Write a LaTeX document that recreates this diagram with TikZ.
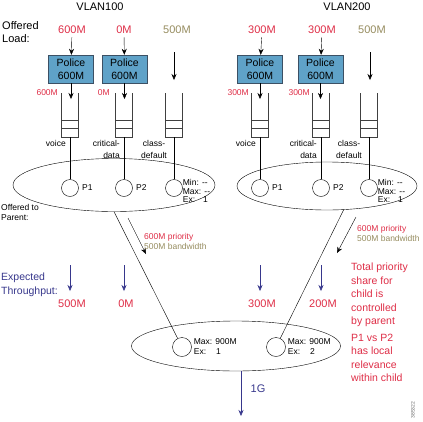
\documentclass[tikz,border=0pt]{standalone}
\usepackage{fontspec}
\setmainfont{Liberation Sans}
\usetikzlibrary{shapes.geometric,arrows.meta}
\definecolor{cred}{RGB}{222,45,70}
\definecolor{colive}{RGB}{150,140,95}
\definecolor{cnavy}{RGB}{55,55,140}
\definecolor{policeblue}{RGB}{95,162,200}
\definecolor{policeline}{RGB}{60,80,100}

\begin{document}
\begin{tikzpicture}[x=1pt,y=-1pt,
  font=\fontsize{11}{13}\selectfont,
  police/.style={draw=policeline,fill=policeblue,minimum width=45pt,minimum height=28pt,
    inner sep=0pt,align=center,font=\fontsize{10.5}{12.5}\selectfont},
  cls/.style={circle,draw,minimum size=17pt,inner sep=0pt},
  ell/.style={ellipse,draw,inner sep=0pt},
  queue/.style={draw=black!75,line width=0.4pt},
  arr/.style={-{Stealth[length=6pt,width=5pt]}},
  thr/.style={cnavy,-{Stealth[length=6pt,width=5pt]}},
  small/.style={font=\fontsize{8.5}{9.5}\selectfont},
  tiny/.style={font=\fontsize{8.5}{8.5}\selectfont,align=left,inner sep=0pt}]
\useasboundingbox (0,0) rectangle (423,421);

% headings
\node (vlan1) at (100,7) {VLAN100};
\node (vlan2) at (347,7) {VLAN200};
\node[anchor=west,align=left,inner sep=0pt] (offered) at (2,32.5) {Offered\\Load:};

% offered load per class
\node[cred] (l1) at (72,30) {600M};
\node[cred] (l2) at (124,30) {0M};
\node[colive] (l3) at (177,30) {500M};
\node[cred] (l4) at (262,30) {300M};
\node[cred] (l5) at (322,30) {300M};
\node[colive] (l6) at (372,30) {500M};

% policers
\node[police] (pol1) at (71,69) {Police\\600M};
\node[police] (pol2) at (124.5,69) {Police\\600M};
\node[police] (pol4) at (260,69) {Police\\600M};
\node[police] (pol5) at (320.5,69) {Police\\600M};
\draw[arr] (l1) -- (pol1);
\draw[arr] (l2) -- (pol2);
\draw[arr] (l4) -- (pol4);
\draw[arr] (l5) -- (pol5);

\coordinate (i1) at (71,99);
\coordinate (i2) at (124.5,99);
\coordinate (i4) at (260,99);
\coordinate (i5) at (320.5,99);
\draw[arr] (pol1) -- (i1);
\draw[arr] (pol2) -- (i2);
\draw[arr] (pol4) -- (i4);
\draw[arr] (pol5) -- (i5);

\coordinate (d3a) at (174,52);
\coordinate (d3b) at (174,80);
\coordinate (d6a) at (370,52);
\coordinate (d6b) at (370,80);
\draw[arr] (d3a) -- (d3b);
\draw[arr] (d6a) -- (d6b);

% policed rates
\node[cred,small,anchor=east,inner sep=0pt] (r1) at (58,93) {600M};
\node[cred,small,anchor=east,inner sep=0pt] (r2) at (110,93) {0M};
\node[cred,small,anchor=east,inner sep=0pt] (r4) at (249,93) {300M};
\node[cred,small,anchor=east,inner sep=0pt] (r5) at (310,93) {300M};

% queues
\foreach \c/\n in {70/1,124/2,174/3,260/4,321/5,369/6} {
  \draw[queue] (\c-8.5,93) -- (\c-8.5,137) -- (\c+8.5,137) -- (\c+8.5,93);
  \draw[queue] (\c-8.5,120) -- (\c+8.5,120) (\c-8.5,128) -- (\c+8.5,128);
  \coordinate (q\n) at (\c,137);
}

% class names
\foreach \c/\n in {70/1,260/4} {
  \node[small,anchor=east,inner sep=0pt] (voice\n) at (\c-4,143) {voice};
}
\foreach \c/\n in {124/2,321/5} {
  \node[anchor=east,align=right,inner sep=0pt,font=\fontsize{8.5}{12}\selectfont] (crit\n) at (\c-4,149) {critical-\\data};
}
\foreach \c/\n in {174/3,369/6} {
  \node[align=center,inner sep=0pt,font=\fontsize{8.5}{12}\selectfont] (def\n) at (\c-20,149) {class-\\default};
}

% child policies
\node[ell,minimum width=202pt,minimum height=53pt] (ellA) at (114,185) {};
\node[ell,minimum width=180pt,minimum height=48pt] (ellB) at (327,186) {};

\node[cls] (p1) at (70,188) {};
\node[cls] (p2) at (124,188) {};
\node[cls] (p3) at (174,188) {};
\node[cls] (p4) at (260,188) {};
\node[cls] (p5) at (321,188) {};
\node[cls] (p6) at (369,188) {};
\foreach \n in {1,...,6} { \draw (q\n) -- (p\n); }

\node[small,anchor=west] (p1l) at (p1.east) {P1};
\node[small,anchor=west] (p2l) at (p2.east) {P2};
\node[small,anchor=west] (p4l) at (p4.east) {P1};
\node[small,anchor=west] (p5l) at (p5.east) {P2};
\node[tiny,anchor=west,yshift=-3pt] (mm3) at (p3.east) {Min: -{}-\\Max: -{}-\\Ex:\hspace{8pt}1};
\node[tiny,anchor=west,yshift=-3pt] (mm6) at (p6.east) {Min: -{}-\\Max: -{}-\\Ex:\hspace{8pt}1};

\node[anchor=west,align=left,inner sep=0pt,font=\fontsize{8.5}{10}\selectfont] (otp) at (1,212) {Offered to\\Parent:};

% parent policy
\node[ell,minimum width=209pt,minimum height=50pt] (ellC) at (236,346) {};
\node[cls,minimum size=19pt] (botA) at (182,347) {};
\node[cls,minimum size=19pt] (botB) at (276,347) {};
\node[tiny,anchor=west,xshift=2pt,font=\fontsize{8.5}{10}\selectfont] (mA) at (botA.east) {Max: 900M\\Ex:\hspace{10pt}1};
\node[tiny,anchor=west,xshift=2pt,font=\fontsize{8.5}{10}\selectfont] (mB) at (botB.east) {Max: 900M\\Ex:\hspace{10pt}2};

\draw (ellA.south) -- (botA);
\draw (ellB.305) -- (botB);

% offered to parent
\coordinate (oa1) at (128,218);
\coordinate (oa2) at (146,254);
\coordinate (ob1) at (356,217);
\coordinate (ob2) at (337,253);
\draw[arr] (oa1) -- (oa2);
\draw[arr] (ob1) -- (ob2);
\node[tiny,anchor=west,font=\fontsize{8.5}{10}\selectfont] (prA) at (144,241) {\textcolor{cred}{600M priority}\\\textcolor{colive}{500M bandwidth}};
\node[tiny,anchor=west,font=\fontsize{8.5}{10}\selectfont] (prB) at (357,233.5) {\textcolor{cred}{600M priority}\\\textcolor{colive}{500M bandwidth}};

% expected throughput
\node[cnavy,anchor=west,align=left,inner sep=0pt,font=\fontsize{10.5}{14}\selectfont] (exp) at (1,285) {Expected\\Throughput:};
\foreach \c/\v in {70/500M,124/0M,260/300M,321/200M} {
  \coordinate (ts\c) at (\c,265);
  \coordinate (te\c) at (\c,291);
  \draw[thr] (ts\c) -- (te\c);
  \node[cred] (tv\c) at (\c+2,304) {\v};
}

\coordinate (out) at (241,416);
\draw[thr] (out |- ellC.south) -- (out);
\node[cnavy] (oneg) at (258,389) {1G};

% notes
\node[cred,anchor=west,align=left,inner sep=0pt,font=\fontsize{10.5}{13.5}\selectfont] (note1) at (351,295) {Total priority\\share for\\child is\\controlled\\by parent};
\node[cred,anchor=west,align=left,inner sep=0pt,font=\fontsize{10.5}{13.5}\selectfont] (note2) at (351,358) {P1 vs P2\\has local\\relevance\\within child};

\node[black!60,rotate=90,inner sep=0pt,font=\fontsize{5}{5}\selectfont] (artid) at (413,410) {385322};
\end{tikzpicture}
\end{document}
